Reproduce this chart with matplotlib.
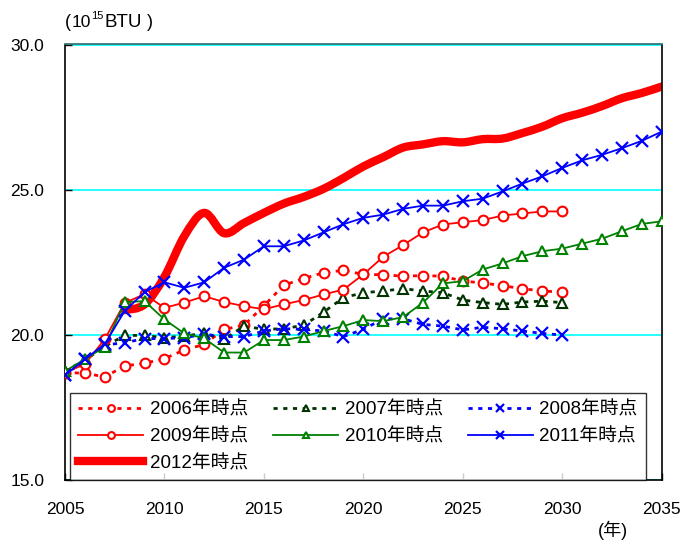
import numpy as np
import matplotlib
matplotlib.use("Agg")
import matplotlib.pyplot as plt
from matplotlib.path import Path
from matplotlib.patches import PathPatch
from matplotlib.lines import Line2D

plt.rcParams["font.family"] = ["Liberation Sans", "Noto Sans CJK JP"]

# ---- data (10^15 BTU) ----
years_a = list(range(2005, 2031))   # 2006-2009 outlooks
years_b = list(range(2005, 2036))   # 2010-2011 outlooks
years_c = list(range(2008, 2036))   # 2012 outlook

v2006 = [18.70, 18.68, 18.55, 18.93, 19.02, 19.18, 19.48, 19.67, 20.19, 20.33,
         21.00, 21.71, 21.94, 22.14, 22.22, 22.08, 22.07, 22.02, 22.04, 22.02,
         21.85, 21.79, 21.69, 21.59, 21.51, 21.47]
v2007 = [18.75, 19.13, 19.60, 19.98, 19.98, 19.90, 19.96, 20.05, 19.85, 20.30,
         20.19, 20.21, 20.33, 20.78, 21.28, 21.45, 21.51, 21.59, 21.51, 21.45,
         21.20, 21.11, 21.05, 21.13, 21.16, 21.11]
v2008 = [18.60, 19.16, 19.65, 19.73, 19.87, 19.87, 19.90, 20.02, 19.94, 19.94,
         20.13, 20.21, 20.19, 20.13, 19.94, 20.19, 20.55, 20.55, 20.36, 20.30,
         20.17, 20.26, 20.21, 20.13, 20.05, 19.99]
v2009 = [18.70, 18.99, 19.85, 21.10, 21.40, 20.93, 21.11, 21.33, 21.13, 20.99,
         20.88, 21.05, 21.20, 21.39, 21.56, 22.08, 22.69, 23.09, 23.53, 23.80,
         23.88, 23.95, 24.11, 24.18, 24.25, 24.25]
v2010 = [18.75, 19.16, 19.59, 21.13, 21.16, 20.53, 20.05, 19.88, 19.39, 19.39,
         19.82, 19.82, 19.94, 20.13, 20.30, 20.51, 20.47, 20.61, 21.11, 21.77,
         21.85, 22.25, 22.46, 22.71, 22.88, 22.97, 23.14, 23.31, 23.57, 23.82,
         23.91]
v2011 = [18.60, 19.16, 19.68, 20.82, 21.47, 21.81, 21.62, 21.81, 22.31, 22.59,
         23.05, 23.05, 23.25, 23.53, 23.81, 24.03, 24.14, 24.34, 24.45, 24.45,
         24.60, 24.69, 24.94, 25.21, 25.46, 25.75, 26.01, 26.20, 26.43, 26.68,
         27.00]
v2012 = [20.85, 21.05, 22.00, 23.40, 24.20, 23.50, 23.85, 24.20, 24.52, 24.75,
         25.03, 25.40, 25.80, 26.12, 26.45, 26.56, 26.67, 26.63, 26.74, 26.76,
         26.95, 27.17, 27.46, 27.65, 27.88, 28.15, 28.33, 28.55]

labels = ["2006年時点", "2007年時点", "2008年時点", "2009年時点",
          "2010年時点", "2011年時点", "2012年時点"]

x_ticks = [2005, 2010, 2015, 2020, 2025, 2030, 2035]
y_ticks = [15.0, 20.0, 25.0, 30.0]

RED = "#FF0000"
BLUE = "#0000FF"
GREEN = "#008000"
DKGREEN = "#003300"
DOT = (0, (1.5, 2.0))


def smooth_path(xs, ys):
    """Excel-like smoothed line: cubic bezier through the data points."""
    p = np.column_stack([xs, ys]).astype(float)
    verts = [p[0]]
    codes = [Path.MOVETO]
    n = len(p)
    for i in range(n - 1):
        p0 = p[i - 1] if i > 0 else p[i]
        p3 = p[i + 2] if i + 2 < n else p[i + 1]
        c1 = p[i] + (p[i + 1] - p0) / 6
        c2 = p[i + 1] - (p3 - p[i]) / 6
        verts += [c1, c2, p[i + 1]]
        codes += [Path.CURVE4] * 3
    return Path(verts, codes)


fig = plt.figure(figsize=(6.81, 5.42), dpi=100)
ax = fig.add_axes([65 / 681, 1 - 480 / 542, 596.7 / 681, 435.5 / 542])

ax.add_patch(PathPatch(smooth_path(years_c, v2012), fill=False, ec=RED, lw=6,
                       capstyle="round", joinstyle="round", zorder=2))
h = {}
h[6] = Line2D([], [], color=RED, lw=6, label=labels[6])
mk = dict(ms=7, mew=1.5, mfc="white")
h[0], = ax.plot(years_a, v2006, color=RED, lw=2, ls=DOT, marker="o",
                mec=RED, zorder=3, label=labels[0], **mk)
h[1], = ax.plot(years_a, v2007, color=DKGREEN, lw=2, ls=DOT, marker="^",
                mec=DKGREEN, zorder=3, label=labels[1], **mk)
h[2], = ax.plot(years_a, v2008, color=BLUE, lw=2, ls=DOT, marker="x",
                mec=BLUE, zorder=3, label=labels[2], ms=8, mew=1.6)
h[3], = ax.plot(years_a, v2009, color=RED, lw=1.3, marker="o",
                mec=RED, zorder=4, label=labels[3], **mk)
h[4], = ax.plot(years_b, v2010, color=GREEN, lw=1.3, marker="^",
                mec=GREEN, zorder=4, label=labels[4], **mk)
h[5], = ax.plot(years_b, v2011, color=BLUE, lw=1.3, marker="x",
                mec=BLUE, zorder=4, label=labels[5], ms=8, mew=1.6)

ax.set_xlim(2005, 2035)
ax.set_ylim(15, 30)
ax.set_xticks(x_ticks)
ax.set_yticks(y_ticks)
ax.set_yticklabels([f"{v:.1f}" for v in y_ticks])
ax.tick_params(direction="in", length=5, width=1, labelsize=12.5, colors="black")
ax.tick_params(axis="y", pad=15)
ax.tick_params(axis="x", pad=16)
ax.grid(axis="y", color="#00FFFF", lw=1.2, zorder=0)
ax.set_axisbelow(True)
for s in ["left", "bottom", "right"]:
    ax.spines[s].set_color("black")
    ax.spines[s].set_linewidth(1.2)
ax.spines["top"].set_color("#2e6b6b")
ax.spines["top"].set_linewidth(1.2)

order = [0, 3, 6, 1, 4, 2, 5]
leg = ax.legend([h[i] for i in order], [labels[i] for i in order], ncol=3,
                loc="upper left", bbox_to_anchor=(0.0084, 0.2), borderaxespad=0,
                fontsize=13.5, handlelength=3.45, handletextpad=0.35,
                columnspacing=1.35, labelspacing=0.5, borderpad=0.45,
                frameon=True, fancybox=False, markerscale=0.7)
leg.get_frame().set_edgecolor("black")
leg.get_frame().set_linewidth(1.0)
leg.set_zorder(5)

# unit label
yb = 1 - 27 / 542
fig.text(65 / 681, yb, "(", fontsize=13, va="baseline")
fig.text(72 / 681, yb, "10", fontsize=12.5, va="baseline")
fig.text(91 / 681, 1 - 19 / 542, "15", fontsize=8, va="baseline")
fig.text(104 / 681, yb, "BTU", fontsize=13.5, va="baseline")
fig.text(147 / 681, yb, ")", fontsize=13, va="baseline")
fig.text(613 / 681, 1 - 530 / 542, "(年)", fontsize=13, ha="center", va="center")

fig.savefig("out.png", dpi=100)
